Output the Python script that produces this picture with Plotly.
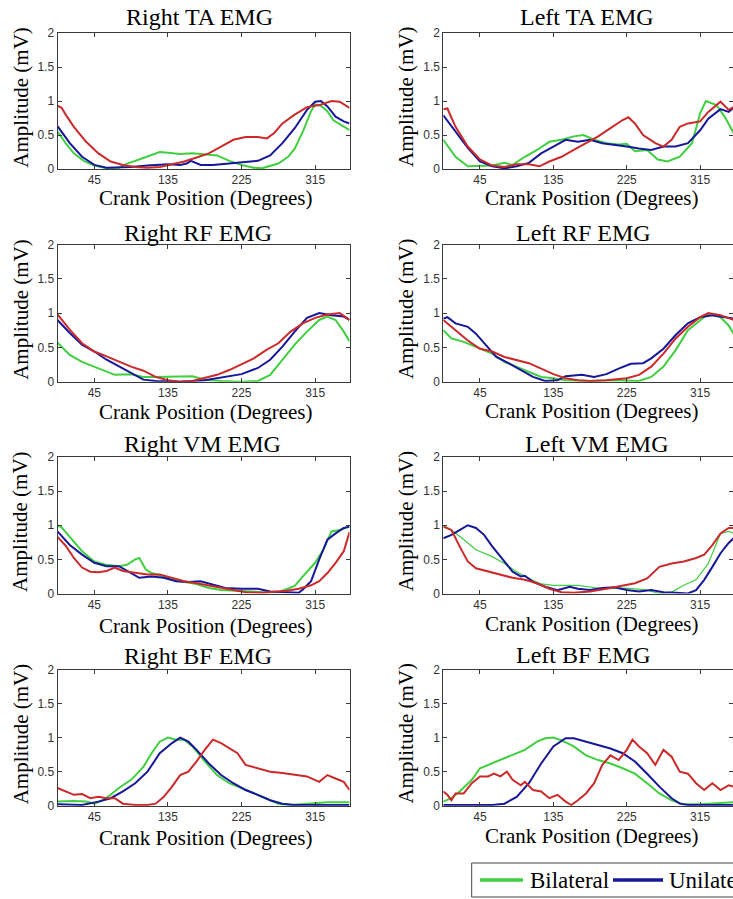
import plotly.graph_objects as go

# ---------------- data (crank angle in degrees, amplitude in mV) ----------------
panel_titles = ["Right TA EMG", "Left TA EMG", "Right RF EMG", "Left RF EMG",
                "Right VM EMG", "Left VM EMG", "Right BF EMG", "Left BF EMG"]
series_names = ["Bilateral", "Unilateral", "Control"]
x_tick_vals = [45, 135, 225, 315]
y_tick_vals = [0, 0.5, 1, 1.5, 2]
y_tick_text = ["0", "0.5", "1", "1.5", "2"]

rta_bi = [(0, .55), (10, .38), (20, .23), (32, .12), (45, .05), (60, .01), (75, .02), (85, .08), (93, .11),
          (110, .18), (125, .25), (135, .24), (150, .22), (165, .23), (180, .22), (195, .2), (210, .12),
          (225, .06), (240, .02), (250, .01), (270, .08), (282, .18), (290, .3), (300, .55), (310, .85),
          (315, .95), (322, .93), (330, .85), (337, .72), (345, .66), (357, .57)]
rta_uni = [(0, .63), (8, .5), (15, .38), (30, .18), (45, .06), (60, .02), (75, .02), (90, .03), (110, .05),
           (125, .06), (135, .07), (150, .06), (158, .08), (163, .12), (168, .09), (175, .06), (190, .06),
           (210, .08), (225, .1), (245, .12), (260, .2), (275, .38), (290, .6), (305, .87), (315, .99),
           (322, 1.0), (330, .92), (340, .77), (350, .7), (357, .67)]
rta_con = [(0, .93), (5, .9), (10, .8), (20, .62), (35, .4), (50, .23), (65, .11), (80, .06), (95, .03),
           (110, .02), (125, .03), (140, .07), (155, .11), (170, .17), (185, .23), (200, .33), (215, .43),
           (230, .47), (245, .47), (256, .45), (265, .53), (275, .67), (290, .8), (305, .91), (320, .94),
           (335, 1.0), (345, .99), (357, .9)]

lta_bi = [(0, .43), (15, .18), (30, .04), (45, .04), (60, .05), (75, .09), (85, .06), (100, .18), (115, .28),
          (130, .4), (145, .43), (160, .48), (172, .5), (185, .43), (200, .38), (215, .36), (225, .37),
          (235, .26), (250, .28), (263, .14), (275, .11), (290, .18), (305, .38), (315, .82), (322, 1.0),
          (335, .94), (345, .77), (356, .53)]
lta_uni = [(0, .79), (15, .55), (30, .31), (45, .11), (60, .04), (75, .01), (90, .04), (105, .09), (120, .23),
           (135, .33), (150, .43), (165, .4), (180, .43), (195, .38), (210, .36), (225, .33), (240, .3),
           (255, .28), (270, .33), (285, .33), (300, .38), (315, .57), (325, .74), (340, .88), (350, .84),
           (356, .9)]
lta_con = [(0, .88), (5, .89), (15, .62), (30, .33), (45, .14), (60, .05), (75, .03), (90, .07), (105, .07),
           (118, .04), (130, .11), (145, .18), (160, .28), (175, .38), (190, .48), (205, .6), (220, .72),
           (227, .76), (235, .67), (245, .5), (260, .38), (270, .33), (280, .43), (290, .62), (300, .67),
           (315, .7), (325, .84), (340, .99), (350, .87), (356, .91)]

rrf_bi = [(0, .57), (15, .39), (30, .29), (45, .22), (60, .14), (70, .1), (90, .11), (105, .07), (120, .07),
          (135, .07), (165, .08), (180, .03), (200, .01), (225, .0), (245, .01), (260, .1), (275, .32),
          (290, .54), (305, .73), (320, .9), (330, .95), (340, .9), (350, .73), (357, .59)]
rrf_uni = [(0, .9), (15, .71), (30, .54), (45, .44), (60, .32), (75, .22), (90, .12), (105, .03), (120, .01),
           (150, .0), (180, .02), (200, .06), (225, .11), (245, .2), (260, .32), (275, .51), (290, .73),
           (305, .93), (320, 1.0), (335, .97), (350, .95), (357, .9)]
rrf_con = [(0, .98), (15, .76), (30, .56), (45, .44), (60, .37), (75, .29), (90, .22), (105, .16), (120, .07),
           (135, .02), (150, .0), (165, .01), (180, .05), (195, .1), (210, .17), (225, .25), (240, .34),
           (255, .46), (270, .56), (285, .73), (300, .85), (315, .93), (330, .98), (345, 1.0), (357, .9)]

lrf_bi = [(0, .75), (10, .63), (25, .58), (45, .48), (60, .41), (75, .29), (90, .22), (105, .15), (120, .07),
          (135, .05), (150, .02), (180, .01), (210, .02), (240, .01), (255, .07), (270, .22), (285, .46),
          (300, .75), (315, .9), (325, .99), (340, .94), (350, .82), (356, .7)]
lrf_uni = [(0, .92), (5, .94), (15, .85), (30, .8), (40, .7), (50, .56), (65, .36), (80, .27), (95, .17),
           (110, .07), (125, .01), (140, .02), (150, .08), (170, .1), (185, .07), (200, .11), (215, .19),
           (230, .26), (245, .27), (255, .34), (270, .48), (285, .68), (300, .85), (315, .94), (330, .97),
           (345, .94), (356, .92)]
lrf_con = [(0, .9), (15, .75), (30, .6), (45, .48), (60, .44), (75, .36), (90, .31), (105, .27), (120, .19),
           (135, .11), (150, .05), (165, .02), (180, .01), (200, .02), (225, .05), (240, .1), (255, .22),
           (270, .41), (285, .63), (300, .8), (315, .94), (325, 1.0), (340, .97), (356, .9)]

rvm_bi = [(0, 1.0), (5, .97), (15, .83), (30, .62), (45, .47), (60, .42), (75, .4), (85, .42), (95, .5),
          (100, .52), (108, .35), (115, .3), (130, .25), (150, .18), (170, .14), (185, .08), (200, .05),
          (225, .03), (250, .02), (270, .02), (280, .06), (290, .11), (300, .25), (315, .45), (325, .64),
          (335, .91), (345, .93), (357, .98)]
rvm_uni = [(0, .91), (15, .71), (30, .57), (45, .45), (60, .4), (75, .4), (90, .3), (100, .23), (115, .25),
           (130, .23), (145, .18), (160, .17), (175, .18), (190, .13), (205, .08), (225, .07), (245, .07),
           (260, .03), (280, .02), (295, .01), (300, .06), (310, .18), (320, .5), (330, .79), (340, .88),
           (350, .96), (357, .98)]
rvm_con = [(0, .83), (10, .7), (20, .52), (30, .38), (40, .32), (50, .31), (60, .33), (70, .38), (80, .33),
           (95, .3), (110, .28), (125, .28), (140, .23), (155, .18), (170, .15), (185, .12), (200, .08),
           (215, .05), (230, .02), (250, .01), (265, .02), (280, .04), (295, .07), (310, .12), (320, .18),
           (330, .3), (340, .45), (350, .62), (357, .9)]

lvm_bi = [(0, 1.0), (10, .93), (25, .79), (40, .64), (60, .54), (75, .44), (90, .32), (105, .22), (120, .14),
          (135, .12), (165, .12), (195, .07), (225, .08), (250, .05), (265, .0), (280, .02), (295, .12),
          (310, .2), (325, .44), (340, .88), (350, .91), (356, .88)]
lvm_uni = [(0, .81), (10, .86), (20, .93), (30, 1.0), (40, .96), (50, .86), (60, .69), (75, .47), (85, .32),
           (95, .25), (100, .26), (110, .17), (125, .1), (140, .05), (155, .1), (165, .07), (180, .05),
           (195, .08), (210, .09), (225, .05), (240, .03), (255, .05), (270, .02), (285, .01), (300, .0),
           (310, .05), (320, .2), (330, .39), (340, .59), (350, .74), (356, .81)]
lvm_con = [(0, .98), (10, .93), (20, .69), (30, .47), (40, .37), (55, .32), (70, .27), (85, .23), (100, .2),
           (115, .15), (130, .07), (145, .02), (160, .01), (180, .03), (200, .07), (220, .11), (235, .15),
           (250, .22), (265, .39), (280, .44), (295, .47), (310, .52), (320, .57), (330, .71), (340, .88),
           (350, .96), (356, .96)]

rbf_bi = [(0, .06), (20, .07), (35, .06), (45, .03), (55, .08), (65, .16), (75, .26), (90, .38), (105, .57),
          (115, .77), (125, .94), (135, 1.0), (145, .97), (155, .97), (165, .87), (180, .65), (195, .45),
          (210, .33), (225, .26), (240, .18), (255, .11), (270, .03), (285, .01), (300, .02), (315, .04),
          (330, .05), (357, .05)]
rbf_uni = [(0, .02), (30, .01), (50, .06), (65, .11), (80, .21), (95, .33), (110, .5), (125, .77), (140, .92),
           (150, 1.0), (160, .94), (170, .82), (185, .62), (200, .45), (215, .33), (230, .23), (245, .16),
           (260, .08), (275, .03), (290, .01), (357, .01)]
rbf_con = [(0, .26), (10, .21), (20, .16), (30, .17), (40, .11), (50, .13), (60, .11), (70, .11), (80, .03),
           (95, .01), (110, .01), (120, .03), (130, .13), (140, .28), (150, .45), (160, .5), (170, .65),
           (180, .82), (190, .97), (200, .92), (210, .85), (220, .77), (230, .6), (245, .55), (260, .5),
           (275, .48), (290, .45), (305, .43), (320, .35), (330, .45), (340, .4), (350, .35), (357, .23)]

lbf_bi = [(0, .06), (10, .11), (20, .21), (35, .38), (45, .55), (55, .6), (70, .67), (85, .74), (100, .82),
          (115, .94), (125, .99), (135, 1.0), (145, .96), (160, .87), (175, .74), (190, .67), (205, .62),
          (220, .55), (235, .47), (250, .33), (265, .18), (280, .08), (295, .02), (315, .02), (330, .03),
          (345, .05), (356, .05)]
lbf_uni = [(0, .01), (60, .01), (75, .03), (90, .13), (105, .33), (120, .62), (135, .87), (150, .99),
           (160, .99), (175, .94), (190, .89), (205, .84), (220, .77), (235, .65), (250, .47), (265, .28),
           (280, .11), (290, .03), (300, .01), (356, .01)]
lbf_con = [(0, .21), (5, .16), (10, .08), (15, .18), (25, .18), (35, .33), (45, .43), (55, .43), (62, .47),
           (70, .43), (78, .5), (85, .38), (95, .3), (100, .35), (110, .23), (120, .21), (130, .11), (140, .16),
           (150, .06), (157, .01), (165, .08), (175, .18), (185, .33), (195, .6), (205, .74), (215, .67),
           (225, .82), (232, .97), (240, .87), (250, .77), (260, .6), (270, .82), (280, .72), (290, .5),
           (300, .47), (310, .33), (320, .23), (330, .33), (340, .23), (350, .3), (356, .28)]

panel_series = [
    (rta_bi, rta_uni, rta_con), (lta_bi, lta_uni, lta_con),
    (rrf_bi, rrf_uni, rrf_con), (lrf_bi, lrf_uni, lrf_con),
    (rvm_bi, rvm_uni, rvm_con), (lvm_bi, lvm_uni, lvm_con),
    (rbf_bi, rbf_uni, rbf_con), (lbf_bi, lbf_uni, lbf_con),
]

# ---------------- styling / layout ----------------
W, H = 733, 899
colors = ["#3fcf3f", "#17179a", "#cc2a2a"]
SERIF = "Liberation Serif, Times New Roman, serif"
SANS = "Liberation Sans, Arial, sans-serif"

col_px = [(57.5, 349.5, 357.0), (443.3, 733.0, 355.3)]      # left px, right px, x max
row_px = [(33, 169), (244.5, 381.7), (457, 593.5), (669.5, 805.7)]
title_pos = [(199, 17), (587, 17), (198, 233), (583, 233), (202, 444), (597, 444), (198, 656), (583, 655)]
xtitle_pos = [(205.5, 198), (591.7, 198), (205.5, 412), (591.7, 411.5),
              (205.5, 626), (591.7, 624), (205.5, 838), (591.7, 835.5)]
ytitle_x = [20.7, 406.0]

fig = go.Figure()
annotations = []
shapes = []
layout = dict(width=W, height=H, margin=dict(l=0, r=0, t=0, b=0, autoexpand=False),
              paper_bgcolor="white", plot_bgcolor="white", showlegend=False)

for i, series in enumerate(panel_series):
    r, c = divmod(i, 2)
    ax = "" if i == 0 else str(i + 1)
    for k, pts in enumerate(series):
        xs = [p[0] for p in pts]
        ys = [p[1] for p in pts]
        lw = 1.2 if (i == 5 and k == 0) else 2
        fig.add_trace(go.Scatter(x=xs, y=ys, mode="lines", name=series_names[k],
                                 line=dict(color=colors[k], width=lw),
                                 xaxis="x" + ax, yaxis="y" + ax))
    x0, x1, xmax = col_px[c]
    top, bot = row_px[r]
    common = dict(showline=True, linecolor="#3a3a3a", linewidth=1, mirror="ticks",
                  ticks="inside", ticklen=4, tickcolor="#3a3a3a", showgrid=False, zeroline=False,
                  tickfont=dict(family=SANS, size=12, color="#333"))
    layout["xaxis" + ax] = dict(domain=[x0 / W, x1 / W], range=[0, xmax], tickvals=x_tick_vals,
                                anchor="y" + ax, **common)
    layout["yaxis" + ax] = dict(domain=[1 - bot / H, 1 - top / H], range=[0, 2], tickvals=y_tick_vals,
                                ticktext=y_tick_text, anchor="x" + ax, **common)
    tx, ty = title_pos[i]
    annotations.append(dict(text=panel_titles[i], x=tx / W, y=1 - ty / H, xref="paper", yref="paper",
                            xanchor="center", yanchor="middle", showarrow=False,
                            font=dict(family=SERIF, size=24, color="black")))
    gx, gy = xtitle_pos[i]
    annotations.append(dict(text="Crank Position (Degrees)", x=gx / W, y=1 - gy / H, xref="paper",
                            yref="paper", xanchor="center", yanchor="middle", showarrow=False,
                            font=dict(family=SERIF, size=21, color="black")))
    annotations.append(dict(text="Amplitude (mV)", x=ytitle_x[c] / W, y=1 - ((top + bot) / 2 - 4) / H,
                            xref="paper", yref="paper", xanchor="center", yanchor="middle",
                            textangle=-90, showarrow=False,
                            font=dict(family=SERIF, size=21, color="black")))

# legend box (the reference figure is cropped at the right edge, so it is drawn in place)
leg_top, leg_bot, leg_left, leg_mid = 863, 897, 471.7, 880
shapes.append(dict(type="rect", xref="paper", yref="paper", x0=leg_left / W, x1=1.02,
                   y0=1 - leg_bot / H, y1=1 - leg_top / H, line=dict(color="#444", width=1),
                   fillcolor="white", layer="above"))
legend_items = [(0, 480, 523, 528), (1, 613, 663, 667)]
for k, lx0, lx1, tx0 in legend_items:
    shapes.append(dict(type="line", xref="paper", yref="paper", x0=lx0 / W, x1=lx1 / W,
                       y0=1 - leg_mid / H, y1=1 - leg_mid / H, line=dict(color=colors[k], width=3.5),
                       layer="above"))
    annotations.append(dict(text=series_names[k], x=tx0 / W, y=1 - leg_mid / H, xref="paper", yref="paper",
                            xanchor="left", yanchor="middle", showarrow=False,
                            font=dict(family=SERIF, size=23, color="black")))

layout["annotations"] = annotations
layout["shapes"] = shapes
fig.update_layout(**layout)
fig.write_html("out.html")
